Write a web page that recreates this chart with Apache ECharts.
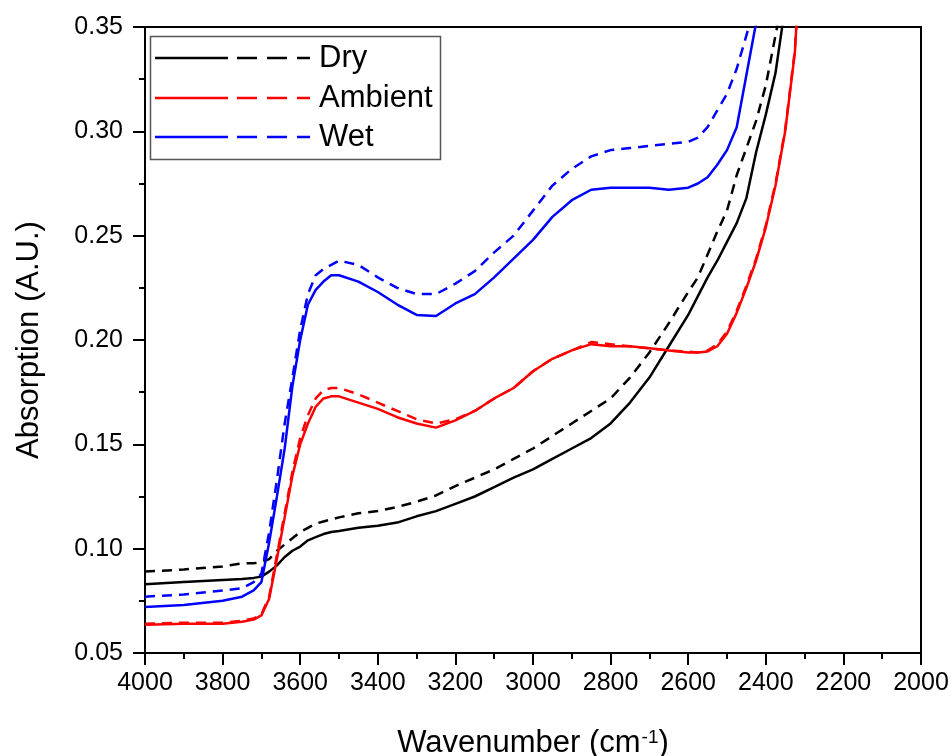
<!DOCTYPE html>
<html>
<head>
<meta charset="utf-8">
<script src="https://cdn.jsdelivr.net/npm/echarts@6/dist/echarts.min.js"></script>
<style>html,body{margin:0;padding:0;background:#fff;overflow:hidden}#c{width:951px;height:756px}</style>
</head>
<body>
<div id="c"></div>
<script>
const wavenumbers = [4000,3900,3800,3750,3720,3700,3680,3660,3640,3620,3600,3580,3560,3540,3520,3500,3450,3400,3350,3300,3250,3200,3150,3100,3050,3000,2950,2900,2850,2800,2750,2700,2650,2600,2575,2550,2525,2500,2475,2450,2425,2400,2375,2350,2325,2300];
const drySolid = [.083,.084,.085,.0855,.086,.0866,.089,.092,.096,.099,.101,.104,.1055,.107,.108,.1085,.110,.111,.1125,.1155,.118,.1215,.125,.1295,.134,.138,.143,.148,.153,.160,.170,.182,.197,.212,.221,.230,.238,.247,.256,.268,.290,.308,.328,.36,null,null];
const dryDashed = [.089,.090,.0915,.093,.093,.0935,.095,.099,.102,.105,.108,.110,.112,.113,.114,.115,.117,.118,.120,.1225,.1255,.130,.134,.138,.143,.148,.154,.160,.166,.172,.182,.194,.208,.223,.230,.241,.252,.262,.279,.292,.305,.322,.346,.37,null,null];
const ambientSolid = [.0635,.064,.064,.065,.066,.068,.076,.095,.115,.135,.150,.160,.168,.172,.173,.173,.170,.167,.163,.160,.158,.1615,.166,.172,.177,.185,.191,.195,.198,.197,.197,.196,.195,.194,.194,.1945,.197,.203,.213,.225,.238,.254,.274,.300,.338,.42];
const ambientDashed = [.064,.0645,.0645,.0655,.0665,.0685,.077,.097,.117,.137,.153,.164,.172,.176,.177,.177,.174,.170,.166,.162,.160,.162,.166,.172,.177,.185,.191,.195,.199,.198,.197,.196,.195,.1945,.194,.195,.198,.204,.214,.226,.239,.255,.275,.301,.339,.42];
const wetSolid = [.072,.073,.075,.077,.080,.084,.103,.125,.148,.178,.200,.217,.224,.228,.231,.231,.228,.223,.217,.212,.2115,.2175,.222,.230,.239,.248,.259,.267,.272,.273,.273,.273,.272,.273,.275,.278,.284,.291,.302,.327,.352,null,null,null,null,null];
const wetDashed = [.077,.078,.080,.081,.084,.088,.108,.133,.160,.182,.205,.222,.231,.234,.236,.238,.236,.230,.225,.222,.222,.227,.233,.242,.250,.262,.274,.282,.288,.291,.292,.293,.294,.295,.297,.302,.310,.318,.330,.346,.362,null,null,null,null,null];
const legendNames = ['Dry','Ambient','Wet'];
const colors = ['#000000','#ff0000','#0000ff'];

const FONT = 'Arial, "Liberation Sans", sans-serif';
function pairs(ys){ return wavenumbers.map((x,i)=>[x, ys[i]]); }
function ser(name, ys, color, dashed){
  return {name, type:'line', data:pairs(ys), showSymbol:false, symbol:'none', smooth:false,
    connectNulls:false, clip:true, animation:false,
    lineStyle:{color, width:2.5, type: dashed ? [10,7] : 'solid'}};
}
const chart = echarts.init(document.getElementById('c'), null, {renderer:'canvas'});
const legendYs = [58, 98, 137];
const graphics = [{type:'rect', shape:{x:150.5,y:36.5,width:290,height:123}, style:{fill:'#fff', stroke:'#555', lineWidth:1.5}, z:100}];
legendNames.forEach((n,i)=>{
  const y = legendYs[i];
  graphics.push({type:'line', shape:{x1:155,y1:y,x2:228,y2:y}, style:{stroke:colors[i], lineWidth:2.5}, z:101});
  graphics.push({type:'line', shape:{x1:237,y1:y,x2:310,y2:y}, style:{stroke:colors[i], lineWidth:2.5, lineDash:[20,10]}, z:101});
  graphics.push({type:'text', x:319, y:y, style:{text:n, font:'31px '+FONT, fill:'#000', textVerticalAlign:'middle', verticalAlign:'middle'}, z:101});
});
chart.setOption({
  backgroundColor:'#fff',
  animation:false,
  grid:{left:145, right:30, top:27, bottom:103, outerBoundsMode:'none', containLabel:false, show:true, borderColor:'#000', borderWidth:2, backgroundColor:'transparent'},
  xAxis:{type:'value', inverse:true, min:2000, max:4000, interval:200,
    axisLine:{show:true, onZero:false, lineStyle:{color:'#000', width:2}},
    axisTick:{show:true, inside:false, length:12, lineStyle:{color:'#000', width:2}},
    minorTick:{show:true, splitNumber:2, length:6, lineStyle:{color:'#000', width:2}},
    splitLine:{show:false},
    axisLabel:{color:'#000', fontSize:25, fontFamily:FONT, margin:18, formatter:v=>String(v)},
    name:'{a|Wavenumber (cm}{s|-1}{a|)}', nameLocation:'middle', nameGap:75,
    nameTextStyle:{rich:{a:{fontSize:31, fontFamily:FONT, color:'#000', verticalAlign:'bottom'}, s:{fontSize:19, fontFamily:FONT, color:'#000', verticalAlign:'top', padding:[0,0,0,1]}}}
  },
  yAxis:{type:'value', min:0.05, max:0.35, interval:0.05,
    axisLine:{show:true, onZero:false, lineStyle:{color:'#000', width:2}},
    axisTick:{show:true, inside:false, length:12, lineStyle:{color:'#000', width:2}},
    minorTick:{show:true, splitNumber:2, length:6, lineStyle:{color:'#000', width:2}},
    splitLine:{show:false},
    axisLabel:{color:'#000', fontSize:25, fontFamily:FONT, margin:22, formatter:v=>v.toFixed(2)},
    name:'Absorption (A.U.)', nameLocation:'middle', nameGap:100, nameRotate:90,
    nameTextStyle:{fontSize:31, fontFamily:FONT, color:'#000'}
  },
  series:[
    ser('Dry', drySolid, colors[0], false),
    ser('Dry dashed', dryDashed, colors[0], true),
    ser('Ambient', ambientSolid, colors[1], false),
    ser('Ambient dashed', ambientDashed, colors[1], true),
    ser('Wet', wetSolid, colors[2], false),
    ser('Wet dashed', wetDashed, colors[2], true)
  ],
  graphic: graphics
});
</script>
</body>
</html>
